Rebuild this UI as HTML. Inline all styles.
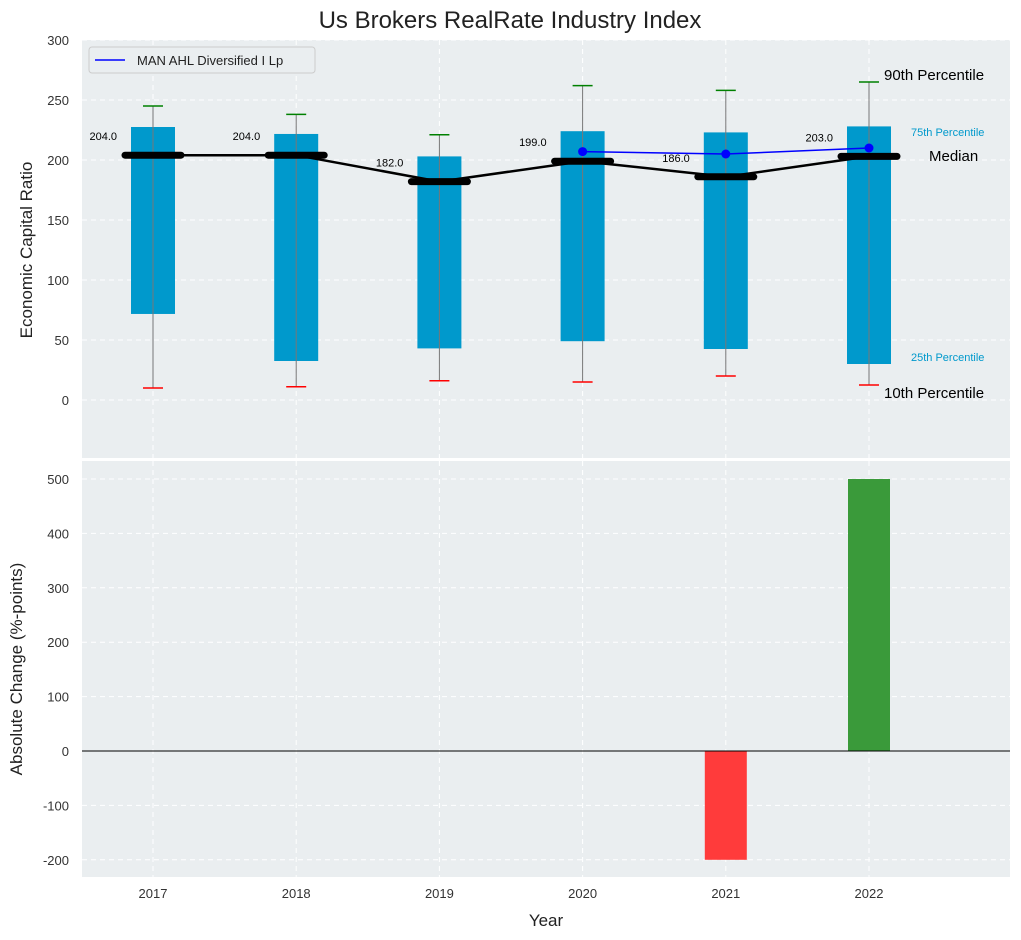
<!DOCTYPE html>
<html><head><meta charset="utf-8"><style>
body{margin:0;background:#fff;}
svg{font-family:"Liberation Sans",sans-serif;display:block;}
</style></head><body>
<svg id="c" width="1021" height="940"></svg>
<script>
const years=[2017,2018,2019,2020,2021,2022];
const p10=[10,11,16,15,20,12.5];
const p25=[71.7,32.5,43,49,42.5,30];
const p50=[204,204,182,199,186,203];
const p75=[227.5,221.7,203,224,223,228];
const p90=[245,238,221,262,258,265];
const compYears=[2020,2021,2022];
const compVals=[207,205,210];
const changes=[0,0,0,0,-200,500];
const topTicks=[0,50,100,150,200,250,300];
const botTicks=[-200,-100,0,100,200,300,400,500];

const NS="http://www.w3.org/2000/svg";
const svg=document.getElementById('c');
function el(t,a,txt){const e=document.createElementNS(NS,t);for(const k in a)e.setAttribute(k,a[k]);if(txt!==undefined)e.textContent=txt;svg.appendChild(e);return e;}
const L=82,R=1010;
const x=v=>153+(v-2017)*143.2;
const yT=v=>400-v*1.2;
const yB=v=>751-v*0.544;

let e;
e=el('text',{x:510,y:28,'text-anchor':'middle','font-size':24,fill:'#222'},'Us Brokers RealRate Industry Index');

// panels
e=el('rect',{x:L,y:40,width:R-L,height:418,fill:'#eaeef0'});

e=el('rect',{x:L,y:461,width:R-L,height:416,fill:'#eaeef0'});

// grids
years.forEach(yr=>{
 el('line',{x1:x(yr),x2:x(yr),y1:40,y2:458,stroke:'#fff','stroke-dasharray':'5,4'});
 el('line',{x1:x(yr),x2:x(yr),y1:461,y2:877,stroke:'#fff','stroke-dasharray':'5,4'});
 e=el('text',{x:x(yr),y:898,'text-anchor':'middle','font-size':13,fill:'#333'},yr);
 
});
topTicks.forEach(t=>{
 el('line',{x1:L,x2:R,y1:yT(t),y2:yT(t),stroke:'#fff','stroke-dasharray':'5,4'});
 e=el('text',{x:69,y:yT(t)+5,'text-anchor':'end','font-size':13,fill:'#333'},t);
 
});
botTicks.forEach(t=>{
 el('line',{x1:L,x2:R,y1:yB(t),y2:yB(t),stroke:'#fff','stroke-dasharray':'5,4'});
 e=el('text',{x:69,y:yB(t)+5,'text-anchor':'end','font-size':13,fill:'#333'},t);
 
});
// boxes
years.forEach((yr,i)=>{
 const cx=x(yr);
 e=el('rect',{x:cx-22,y:yT(p75[i]),width:44,height:yT(p25[i])-yT(p75[i]),fill:'#0099cc'});
 
 el('line',{x1:cx,x2:cx,y1:yT(p90[i]),y2:yT(p10[i]),stroke:'#777','stroke-width':1});
 e=el('line',{x1:cx-10,x2:cx+10,y1:yT(p90[i]),y2:yT(p90[i]),stroke:'green','stroke-width':1.5});
 
 e=el('line',{x1:cx-10,x2:cx+10,y1:yT(p10[i]),y2:yT(p10[i]),stroke:'red','stroke-width':1.5});
 
});
let pts=years.map((yr,i)=>x(yr)+','+yT(p50[i])).join(' ');
e=el('polyline',{points:pts,fill:'none',stroke:'#000','stroke-width':2.5});

years.forEach((yr,i)=>{
 const cx=x(yr);
 e=el('line',{x1:cx-28,x2:cx+28,y1:yT(p50[i]),y2:yT(p50[i]),stroke:'#000','stroke-width':7,'stroke-linecap':'round'});
 
 e=el('text',{x:cx-36,y:yT(p50[i])-15,'text-anchor':'end','font-size':11,fill:'#000'},p50[i].toFixed(1));
 
});
pts=compYears.map((yr,i)=>x(yr)+','+yT(compVals[i])).join(' ');
e=el('polyline',{points:pts,fill:'none',stroke:'blue','stroke-width':1.5});

compYears.forEach((yr,i)=>{e=el('circle',{cx:x(yr),cy:yT(compVals[i]),r:4.5,fill:'blue'});
 });
// annotations
[[884,80,'90th Percentile',15,'#000'],[911,136,'75th Percentile',11,'#0099cc'],[929,161,'Median',15,'#000'],[911,361,'25th Percentile',11,'#0099cc'],[884,398,'10th Percentile',15,'#000']].forEach(a=>{
 e=el('text',{x:a[0],y:a[1],'font-size':a[3],fill:a[4]},a[2]);
 
});
// legend
e=el('rect',{x:89,y:47,width:226,height:26,fill:'#eaeef0',stroke:'#ccc',rx:3});

el('line',{x1:95,x2:125,y1:60,y2:60,stroke:'blue','stroke-width':1.5});
e=el('text',{x:137,y:65,'font-size':13,fill:'#222'},'MAN AHL Diversified I Lp');

// bars
years.forEach((yr,i)=>{
 const v=changes[i];if(v===0)return;
 const y0=yB(Math.max(v,0)),y1=yB(Math.min(v,0));
 e=el('rect',{x:x(yr)-21,y:y0,width:42,height:y1-y0,fill:v>0?'#3a9a3a':'#ff3b3b'});
 
});
el('line',{x1:L,x2:R,y1:yB(0),y2:yB(0),stroke:'#000','stroke-width':1});
// axis titles
e=el('text',{x:32,y:250,'text-anchor':'middle','font-size':17,fill:'#222',transform:'rotate(-90 32 250)'},'Economic Capital Ratio');

e=el('text',{x:22,y:669,'text-anchor':'middle','font-size':17,fill:'#222',transform:'rotate(-90 22 669)'},'Absolute Change (%-points)');

e=el('text',{x:546,y:926,'text-anchor':'middle','font-size':17,fill:'#222'},'Year');

</script>
</body></html>
